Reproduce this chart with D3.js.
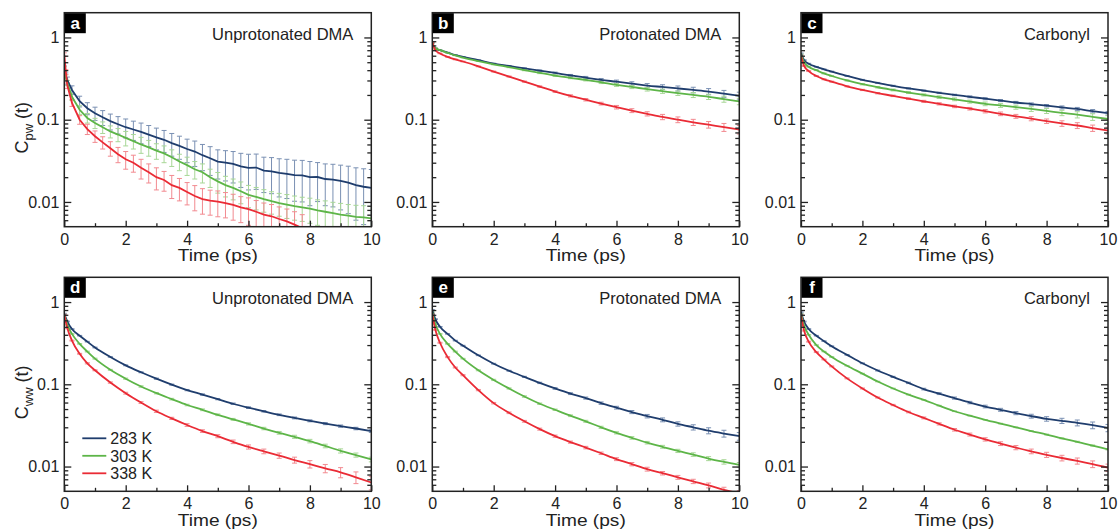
<!DOCTYPE html>
<html>
<head>
<meta charset="utf-8">
<script src="https://cdn.jsdelivr.net/npm/d3@7"></script>
<style>
body { margin: 0; background: #fff; }
svg text { font-family: "Liberation Sans", Arial, sans-serif; fill: #222; }
</style>
</head>
<body>
<div id="chart"></div>
<script>
// Canvas size
var width = 1118;
var height = 531;

// Temperatures (legend) and series colours
var temps = ["283 K", "303 K", "338 K"];
var lineColors = ["#1f3d6d", "#5db548", "#ea2b35"];
var errColors = ["#7a90b3", "#a8d797", "#f28a90"];

// Tick values
var xMajor = [0, 2, 4, 6, 8, 10];
var xMinor = [1, 3, 5, 7, 9];
var yMajor = [0.01, 0.1, 1];
var yMinor = [0.006, 0.007, 0.008, 0.009, 0.02, 0.03, 0.04, 0.05, 0.06, 0.07, 0.08, 0.09,
              0.2, 0.3, 0.4, 0.5, 0.6, 0.7, 0.8, 0.9];

// Time grids (ps)
var timeA = [0, 0.05, 0.1, 0.25, 0.5, 0.75, 1, 1.25, 1.5, 1.75, 2, 2.25, 2.5, 2.75, 3, 3.25, 3.5, 3.75,
             4, 4.25, 4.5, 4.75, 5, 5.25, 5.5, 5.75, 6, 6.25, 6.5, 6.75, 7, 7.25, 7.5, 7.75,
             8, 8.25, 8.5, 8.75, 9, 9.25, 9.5, 9.75, 10];
var timeS = [0, 0.1, 0.25, 0.5, 0.75, 1, 1.5, 2, 2.5, 3, 3.5, 4, 4.5, 5, 5.5, 6, 6.5, 7, 7.5, 8, 8.5, 9, 9.5, 10];

// (a) Cpw, unprotonated DMA
var aBlue = [0.42, 0.34, 0.30, 0.23, 0.168, 0.138, 0.120, 0.107, 0.096, 0.088, 0.081, 0.076, 0.071, 0.066, 0.061, 0.057, 0.052, 0.048,
             0.044, 0.041, 0.037, 0.034, 0.031, 0.030, 0.029, 0.027, 0.026, 0.0262, 0.024, 0.0236, 0.0225, 0.022, 0.0212, 0.021,
             0.020, 0.0201, 0.019, 0.0187, 0.018, 0.0172, 0.016, 0.0153, 0.0148];
var aBlueErr = [0.03, 0.03, 0.03, 0.028, 0.025, 0.023, 0.022, 0.022, 0.021, 0.021, 0.021, 0.02, 0.02, 0.019, 0.018, 0.017, 0.016, 0.015,
                0.014, 0.014, 0.013, 0.013, 0.012, 0.012, 0.012, 0.012, 0.012, 0.012, 0.011, 0.011, 0.011, 0.011, 0.011, 0.011,
                0.011, 0.010, 0.010, 0.010, 0.010, 0.010, 0.010, 0.010, 0.010];
var aGreen = [0.42, 0.33, 0.28, 0.19, 0.132, 0.105, 0.091, 0.081, 0.072, 0.066, 0.060, 0.055, 0.050, 0.046, 0.042, 0.039, 0.035, 0.031,
              0.028, 0.025, 0.023, 0.020, 0.0178, 0.016, 0.0148, 0.0135, 0.0122, 0.0115, 0.0108, 0.0102, 0.0097, 0.0093, 0.0089, 0.0086,
              0.0083, 0.0079, 0.0076, 0.0073, 0.0070, 0.0068, 0.0066, 0.0065, 0.0063];
var aGreenErr = [0.02, 0.02, 0.02, 0.018, 0.016, 0.014, 0.013, 0.013, 0.012, 0.012, 0.012, 0.011, 0.011, 0.010, 0.009, 0.009, 0.008, 0.007,
                 0.007, 0.006, 0.006, 0.005, 0.005, 0.0045, 0.0042, 0.004, 0.0037, 0.0035, 0.0033, 0.0031, 0.003, 0.003, 0.0029, 0.0028,
                 0.0028, 0.0027, 0.0027, 0.0026, 0.0026, 0.0025, 0.0025, 0.0025, 0.0025];
var aRed = [0.62, 0.38, 0.26, 0.16, 0.100, 0.077, 0.063, 0.053, 0.045, 0.038, 0.033, 0.030, 0.026, 0.023, 0.020, 0.0185, 0.016, 0.0148,
            0.0132, 0.0118, 0.0108, 0.0104, 0.0101, 0.0097, 0.0092, 0.0086, 0.0082, 0.0076, 0.0070, 0.0067, 0.0062, 0.0058, 0.0053, 0.0048];
var aRedErr = [0.03, 0.025, 0.02, 0.015, 0.012, 0.011, 0.010, 0.009, 0.009, 0.008, 0.008, 0.007, 0.007, 0.006, 0.006, 0.005, 0.005, 0.0045,
               0.004, 0.004, 0.0037, 0.0035, 0.0035, 0.0033, 0.0032, 0.003, 0.003, 0.0028, 0.0027, 0.0026, 0.0025, 0.0024, 0.0023, 0.0022];

// (b) Cpw, protonated DMA
var bBlue = [0.86, 0.74, 0.70, 0.655, 0.61, 0.58, 0.53, 0.48, 0.45, 0.42, 0.395, 0.37, 0.345, 0.325, 0.305, 0.29, 0.275, 0.26, 0.25, 0.24, 0.23, 0.22, 0.207, 0.195];
var bBlueErr = [0.01, 0.008, 0.006, 0.005, 0.005, 0.005, 0.005, 0.006, 0.006, 0.007, 0.008, 0.009, 0.010, 0.011, 0.012, 0.013, 0.014, 0.015, 0.016, 0.017, 0.018, 0.019, 0.020, 0.021];
var bGreen = [0.86, 0.74, 0.70, 0.65, 0.605, 0.57, 0.515, 0.47, 0.435, 0.40, 0.37, 0.344, 0.323, 0.305, 0.285, 0.265, 0.25, 0.235, 0.222, 0.21, 0.20, 0.19, 0.178, 0.167];
var bGreenErr = [0.01, 0.008, 0.006, 0.005, 0.005, 0.005, 0.005, 0.005, 0.006, 0.006, 0.007, 0.008, 0.008, 0.009, 0.010, 0.011, 0.011, 0.012, 0.013, 0.013, 0.014, 0.014, 0.015, 0.015];
var bRed = [0.88, 0.70, 0.64, 0.58, 0.54, 0.51, 0.445, 0.385, 0.335, 0.29, 0.253, 0.22, 0.195, 0.175, 0.157, 0.142, 0.129, 0.118, 0.108, 0.100, 0.093, 0.087, 0.081, 0.076];
var bRedErr = [0.01, 0.008, 0.006, 0.005, 0.005, 0.005, 0.005, 0.005, 0.005, 0.005, 0.005, 0.005, 0.006, 0.006, 0.006, 0.007, 0.007, 0.007, 0.008, 0.008, 0.008, 0.008, 0.009, 0.009];

// (c) Cpw, carbonyl
var cBlue = [0.64, 0.53, 0.48, 0.44, 0.41, 0.385, 0.34, 0.305, 0.28, 0.258, 0.24, 0.226, 0.212, 0.20, 0.19, 0.18, 0.171, 0.162, 0.155, 0.148, 0.141, 0.135, 0.127, 0.12];
var cBlueErr = [0.008, 0.006, 0.005, 0.004, 0.004, 0.004, 0.004, 0.004, 0.004, 0.004, 0.004, 0.004, 0.004, 0.004, 0.005, 0.005, 0.005, 0.005, 0.005, 0.005, 0.006, 0.006, 0.006, 0.006];
var cGreen = [0.62, 0.50, 0.44, 0.40, 0.365, 0.34, 0.30, 0.27, 0.248, 0.23, 0.214, 0.20, 0.188, 0.177, 0.166, 0.156, 0.149, 0.142, 0.135, 0.128, 0.121, 0.115, 0.108, 0.102];
var cGreenErr = [0.008, 0.006, 0.005, 0.005, 0.005, 0.005, 0.005, 0.005, 0.005, 0.006, 0.006, 0.006, 0.007, 0.007, 0.007, 0.008, 0.008, 0.008, 0.009, 0.009, 0.009, 0.010, 0.010, 0.010];
var cRed = [0.60, 0.45, 0.39, 0.34, 0.31, 0.29, 0.255, 0.23, 0.21, 0.195, 0.18, 0.167, 0.156, 0.145, 0.136, 0.127, 0.118, 0.11, 0.103, 0.096, 0.09, 0.085, 0.079, 0.074];
var cRedErr = [0.008, 0.006, 0.005, 0.004, 0.004, 0.004, 0.004, 0.004, 0.004, 0.004, 0.004, 0.005, 0.005, 0.005, 0.005, 0.006, 0.006, 0.006, 0.006, 0.006, 0.007, 0.007, 0.007, 0.007];

// (d) Cww, unprotonated DMA
var dBlue = [0.72, 0.58, 0.47, 0.39, 0.33, 0.28, 0.215, 0.17, 0.14, 0.117, 0.099, 0.085, 0.075, 0.066, 0.058, 0.052, 0.047, 0.0426, 0.039, 0.036, 0.0333, 0.031, 0.029, 0.027];
var dBlueErr = [0.01, 0.006, 0.004, 0.003, 0.003, 0.003, 0.002, 0.002, 0.002, 0.002, 0.0015, 0.0015, 0.0015, 0.0012, 0.0012, 0.0012, 0.001, 0.001, 0.001, 0.001, 0.001, 0.001, 0.001, 0.001];
var dGreen = [0.70, 0.53, 0.41, 0.31, 0.25, 0.205, 0.15, 0.117, 0.094, 0.078, 0.066, 0.056, 0.049, 0.0426, 0.0375, 0.033, 0.029, 0.0257, 0.023, 0.0204, 0.0178, 0.0155, 0.0138, 0.0122];
var dGreenErr = [0.01, 0.006, 0.004, 0.003, 0.003, 0.003, 0.002, 0.002, 0.002, 0.0015, 0.0015, 0.0012, 0.0012, 0.001, 0.001, 0.001, 0.001, 0.001, 0.001, 0.001, 0.0009, 0.0009, 0.0008, 0.0008];
var dRed = [0.70, 0.48, 0.34, 0.235, 0.18, 0.148, 0.105, 0.078, 0.06, 0.047, 0.0385, 0.032, 0.027, 0.0234, 0.020, 0.0173, 0.0153, 0.0136, 0.012, 0.0107, 0.0095, 0.0085, 0.0074, 0.0064];
var dRedErr = [0.01, 0.006, 0.004, 0.003, 0.003, 0.002, 0.002, 0.002, 0.0015, 0.0015, 0.0012, 0.0012, 0.001, 0.001, 0.001, 0.001, 0.001, 0.001, 0.001, 0.0011, 0.0011, 0.0012, 0.0012, 0.0012];

// (e) Cww, protonated DMA
var eBlue = [0.80, 0.62, 0.50, 0.41, 0.34, 0.295, 0.225, 0.178, 0.146, 0.123, 0.104, 0.089, 0.077, 0.068, 0.059, 0.052, 0.046, 0.041, 0.037, 0.033, 0.030, 0.0273, 0.0252, 0.0234];
var eBlueErr = [0.01, 0.006, 0.004, 0.003, 0.003, 0.003, 0.002, 0.002, 0.002, 0.002, 0.002, 0.002, 0.002, 0.002, 0.002, 0.002, 0.002, 0.002, 0.002, 0.002, 0.0022, 0.0023, 0.0024, 0.0025];
var eGreen = [0.75, 0.54, 0.41, 0.31, 0.25, 0.205, 0.148, 0.113, 0.089, 0.071, 0.058, 0.049, 0.0415, 0.0355, 0.030, 0.0257, 0.0223, 0.0195, 0.0174, 0.0155, 0.014, 0.0125, 0.0114, 0.0105];
var eGreenErr = [0.01, 0.006, 0.004, 0.003, 0.003, 0.002, 0.002, 0.002, 0.0015, 0.0015, 0.0012, 0.001, 0.001, 0.001, 0.0009, 0.0008, 0.0008, 0.0007, 0.0007, 0.0007, 0.0007, 0.0007, 0.0007, 0.0007];
var eRed = [0.72, 0.46, 0.32, 0.214, 0.16, 0.129, 0.085, 0.059, 0.045, 0.0355, 0.0285, 0.0234, 0.0198, 0.017, 0.0145, 0.0123, 0.0107, 0.0093, 0.0083, 0.0074, 0.0066, 0.0059, 0.0052, 0.0047];
var eRedErr = [0.01, 0.006, 0.004, 0.003, 0.002, 0.002, 0.0015, 0.0012, 0.001, 0.0009, 0.0008, 0.0007, 0.0006, 0.0006, 0.0005, 0.0005, 0.0005, 0.0005, 0.0004, 0.0004, 0.0004, 0.0004, 0.0004, 0.0004];

// (f) Cww, carbonyl
var fBlue = [0.75, 0.58, 0.47, 0.39, 0.335, 0.29, 0.228, 0.18, 0.147, 0.123, 0.104, 0.0875, 0.077, 0.068, 0.060, 0.0537, 0.049, 0.0447, 0.041, 0.038, 0.036, 0.034, 0.0318, 0.0295];
var fBlueErr = [0.01, 0.006, 0.004, 0.003, 0.003, 0.003, 0.002, 0.002, 0.002, 0.002, 0.002, 0.002, 0.002, 0.002, 0.002, 0.002, 0.002, 0.002, 0.0022, 0.0024, 0.0026, 0.0028, 0.003, 0.003];
var fGreen = [0.72, 0.52, 0.40, 0.30, 0.25, 0.215, 0.168, 0.135, 0.108, 0.089, 0.075, 0.0646, 0.055, 0.047, 0.0415, 0.037, 0.0333, 0.030, 0.027, 0.0245, 0.022, 0.020, 0.018, 0.0162];
var fGreenErr = [0.008, 0.005, 0.003, 0.002, 0.002, 0.002, 0.0015, 0.0012, 0.001, 0.0008, 0.0007, 0.0006, 0.0005, 0.0004, 0.0004, 0.0003, 0.0003, 0.0003, 0.0003, 0.0003, 0.0003, 0.0003, 0.0003, 0.0003];
var fRed = [0.70, 0.45, 0.33, 0.246, 0.20, 0.165, 0.118, 0.089, 0.069, 0.056, 0.046, 0.039, 0.033, 0.028, 0.0245, 0.0214, 0.019, 0.017, 0.0153, 0.0139, 0.0127, 0.0117, 0.0107, 0.0097];
var fRedErr = [0.01, 0.006, 0.004, 0.003, 0.002, 0.002, 0.0015, 0.0012, 0.001, 0.001, 0.001, 0.001, 0.001, 0.001, 0.001, 0.001, 0.001, 0.001, 0.001, 0.001, 0.001, 0.001, 0.001, 0.001];

// Panel layout
var colLeft = [64.3, 432.3, 801];
var rowTop = [12.7, 277.3];
var plotW = 307;
var plotH = 214;

var panels = [
  { id: "a", col: 0, row: 0, title: "Unprotonated DMA", time: timeA, curve: d3.curveLinear,
    series: [[aBlue, aBlueErr], [aGreen, aGreenErr], [aRed, aRedErr]] },
  { id: "b", col: 1, row: 0, title: "Protonated DMA", time: timeS, curve: d3.curveMonotoneX,
    series: [[bBlue, bBlueErr], [bGreen, bGreenErr], [bRed, bRedErr]] },
  { id: "c", col: 2, row: 0, title: "Carbonyl", time: timeS, curve: d3.curveMonotoneX,
    series: [[cBlue, cBlueErr], [cGreen, cGreenErr], [cRed, cRedErr]] },
  { id: "d", col: 0, row: 1, title: "Unprotonated DMA", time: timeS, curve: d3.curveMonotoneX, legend: true,
    series: [[dBlue, dBlueErr], [dGreen, dGreenErr], [dRed, dRedErr]] },
  { id: "e", col: 1, row: 1, title: "Protonated DMA", time: timeS, curve: d3.curveMonotoneX,
    series: [[eBlue, eBlueErr], [eGreen, eGreenErr], [eRed, eRedErr]] },
  { id: "f", col: 2, row: 1, title: "Carbonyl", time: timeS, curve: d3.curveMonotoneX,
    series: [[fBlue, fBlueErr], [fGreen, fGreenErr], [fRed, fRedErr]] }
];

var svg = d3.select("#chart").append("svg")
    .attr("width", width)
    .attr("height", height);

var x = d3.scaleLinear().domain([0, 10]).range([0, plotW]);
var y = d3.scaleLog().domain([0.005, 2]).range([plotH, 0]);

function styleTicks(sel) {
  sel.select(".domain").remove();
  sel.selectAll(".tick line").attr("stroke", "#222").attr("stroke-width", 1.3);
  sel.selectAll(".tick text").style("font-size", "16px").attr("fill", "#222");
}

function drawPanel(p) {
  var g = svg.append("g")
      .attr("transform", "translate(" + colLeft[p.col] + "," + rowTop[p.row] + ")");

  g.append("clipPath").attr("id", "clip-" + p.id)
    .append("rect").attr("width", plotW).attr("height", plotH);

  var plot = g.append("g").attr("clip-path", "url(#clip-" + p.id + ")");

  // Error bars for every series first, then the lines on top
  p.series.forEach(function(s, k) {
    var pts = s[0].map(function(v, i) {
      return { t: p.time[i], v: v, hi: v + s[1][i], lo: Math.max(v - s[1][i], 1e-4) };
    });
    var eb = plot.append("g").attr("stroke", errColors[k]).attr("stroke-width", 1).attr("fill", "none");
    eb.selectAll("path").data(pts).enter().append("path")
      .attr("d", function(d) {
        var xx = x(d.t), y1 = y(d.hi), y2 = y(d.lo);
        return "M" + xx + "," + y1 + "V" + y2 +
               "M" + (xx - 2.5) + "," + y1 + "H" + (xx + 2.5) +
               "M" + (xx - 2.5) + "," + y2 + "H" + (xx + 2.5);
      });
  });

  p.series.forEach(function(s, k) {
    var line = d3.line()
        .x(function(d, i) { return x(p.time[i]); })
        .y(function(d) { return y(d); })
        .curve(p.curve);
    plot.append("path")
      .attr("d", line(s[0]))
      .attr("fill", "none")
      .attr("stroke", lineColors[k])
      .attr("stroke-width", 1.8);
  });

  // Axes, ticks pointing inward
  var xAx = g.append("g").attr("transform", "translate(0," + plotH + ")")
      .call(d3.axisBottom(x).tickValues(xMajor).tickSizeInner(-6).tickSizeOuter(0).tickPadding(6.5));
  styleTicks(xAx);
  var xMin = g.append("g").attr("transform", "translate(0," + plotH + ")")
      .call(d3.axisBottom(x).tickValues(xMinor).tickSize(-3.5).tickFormat(""));
  styleTicks(xMin);

  var yAx = g.append("g")
      .call(d3.axisLeft(y).tickValues(yMajor).tickSizeInner(-7).tickSizeOuter(0).tickPadding(5)
        .tickFormat(function(d) { return d === 1 ? "1" : String(d); }));
  styleTicks(yAx);
  var yMin = g.append("g").call(d3.axisLeft(y).tickValues(yMinor).tickSize(-4).tickFormat(""));
  styleTicks(yMin);

  var yR = g.append("g").attr("transform", "translate(" + plotW + ",0)")
      .call(d3.axisRight(y).tickValues(yMajor).tickSize(-7).tickFormat(""));
  styleTicks(yR);
  var yRMin = g.append("g").attr("transform", "translate(" + plotW + ",0)")
      .call(d3.axisRight(y).tickValues(yMinor).tickSize(-4).tickFormat(""));
  styleTicks(yRMin);

  // Frame
  g.append("rect")
    .attr("width", plotW).attr("height", plotH)
    .attr("fill", "none").attr("stroke", "#222").attr("stroke-width", 1.5);

  // Panel letter
  g.append("rect").attr("x", 0.5).attr("y", 0.5).attr("width", 21).attr("height", 20).attr("fill", "#000");
  g.append("text")
    .attr("x", 11).attr("y", 16)
    .attr("text-anchor", "middle")
    .style("font-size", "17px").style("font-weight", "bold").style("fill", "#fff")
    .text(p.id);

  // Panel title
  g.append("text")
    .attr("x", plotW - 18).attr("y", 27)
    .attr("text-anchor", "end")
    .style("font-size", "16.5px")
    .text(p.title);

  // X label (the original lettering is a little wider than Arial)
  g.append("text")
    .attr("x", plotW / 2 - 40).attr("y", plotH + (p.row === 0 ? 34.6 : 35))
    .attr("textLength", 80)
    .attr("lengthAdjust", "spacingAndGlyphs")
    .style("font-size", "17px")
    .text("Time (ps)");

  // Y label on first column
  if (p.col === 0) {
    var lab = g.append("text")
        .attr("transform", "translate(-36," + (plotH / 2 + 8) + ") rotate(-90)")
        .attr("text-anchor", "middle")
        .style("font-size", "18px");
    lab.append("tspan").text("C");
    lab.append("tspan").attr("dy", 5).style("font-size", "13px").text(p.row === 0 ? "pw" : "ww");
    lab.append("tspan").attr("dy", -5).text(" (t)");
  }

  // Legend
  if (p.legend) {
    var lg = g.append("g").attr("transform", "translate(18,161)");
    temps.forEach(function(tname, k) {
      lg.append("line")
        .attr("x1", 0).attr("x2", 24)
        .attr("y1", k * 17.5).attr("y2", k * 17.5)
        .attr("stroke", lineColors[k]).attr("stroke-width", 1.8);
      lg.append("text")
        .attr("x", 28).attr("y", k * 17.5).attr("dy", "0.36em")
        .style("font-size", "16px")
        .text(tname);
    });
  }
}

panels.forEach(drawPanel);
</script>
</body>
</html>
